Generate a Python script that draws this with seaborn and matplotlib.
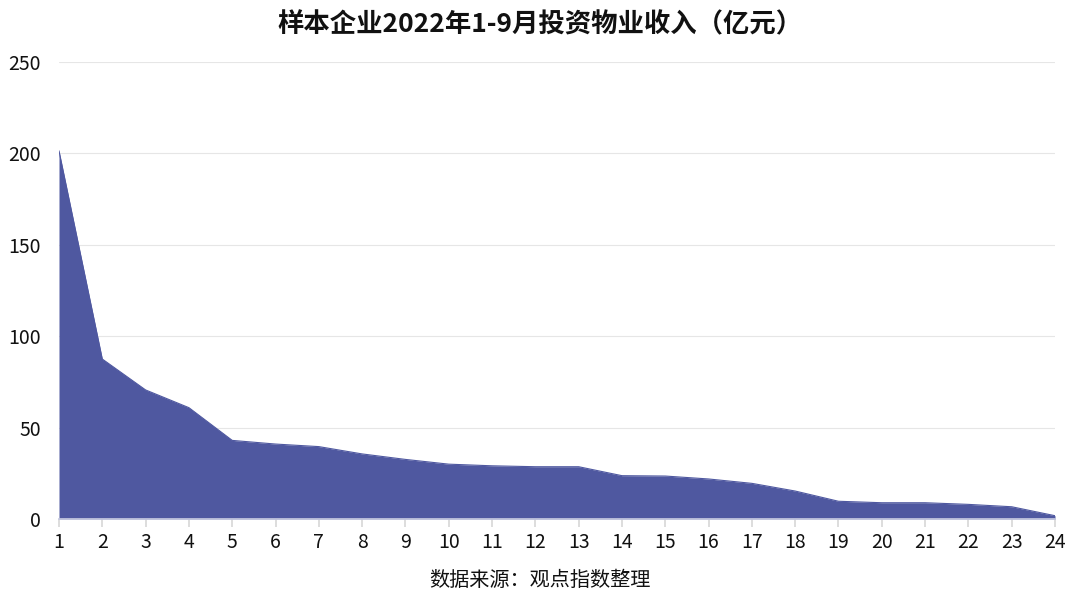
import pandas as pd
import seaborn as sns
import matplotlib.pyplot as plt

# values
ranks = list(range(1, 25))
income = [201.4, 87.5, 70.6, 60.9, 43.0, 41.0, 39.6, 35.6, 32.6, 30.0,
          29.1, 28.6, 28.6, 23.7, 23.5, 21.9, 19.5, 15.3, 9.7, 8.9,
          8.9, 8.0, 6.7, 1.8]
y_ticks = [0, 50, 100, 150, 200, 250]

title = "样本企业2022年1-9月投资物业收入（亿元）"
source = "数据来源：观点指数整理"

df = pd.DataFrame({"rank": ranks, "income": income})

sns.set_theme(style="white")
plt.rcParams['font.family'] = ['Noto Sans CJK SC', 'DejaVu Sans']

color = "#4f58a0"
fig, ax = plt.subplots(figsize=(10.8, 6.09), dpi=100)
fig.subplots_adjust(left=59/1080, right=1055/1080, top=1-62/609, bottom=1-519/609)

sns.lineplot(data=df, x="rank", y="income", color=color, linewidth=0.8, ax=ax)
ax.fill_between(df["rank"], df["income"], 0, color=color, linewidth=0)

ax.set_xlim(1, 24)
ax.set_ylim(0, 250)
ax.set_xticks(ranks)
ax.set_yticks(y_ticks)
ax.set_xlabel("")
ax.set_ylabel("")
ax.grid(axis="y", color="#e6e6e6", linewidth=0.8)
ax.set_axisbelow(True)

for s in ["top", "right", "left"]:
    ax.spines[s].set_visible(False)
ax.spines["bottom"].set_color("#c5c8e0")
ax.tick_params(axis="x", length=6, color="#d8d8d8", labelsize=14, pad=3,
               bottom=True, labelcolor="#111111")
ax.tick_params(axis="y", length=0, labelsize=14, pad=13, labelcolor="#111111")

fig.text(0.5, 1 - 25/609, title, ha="center", va="center",
         fontsize=19, fontweight="bold", color="#111111")
fig.text(0.5, 1 - 580/609, source, ha="center", va="center",
         fontsize=14.5, color="#111111")

fig.savefig("out.png", dpi=100)
